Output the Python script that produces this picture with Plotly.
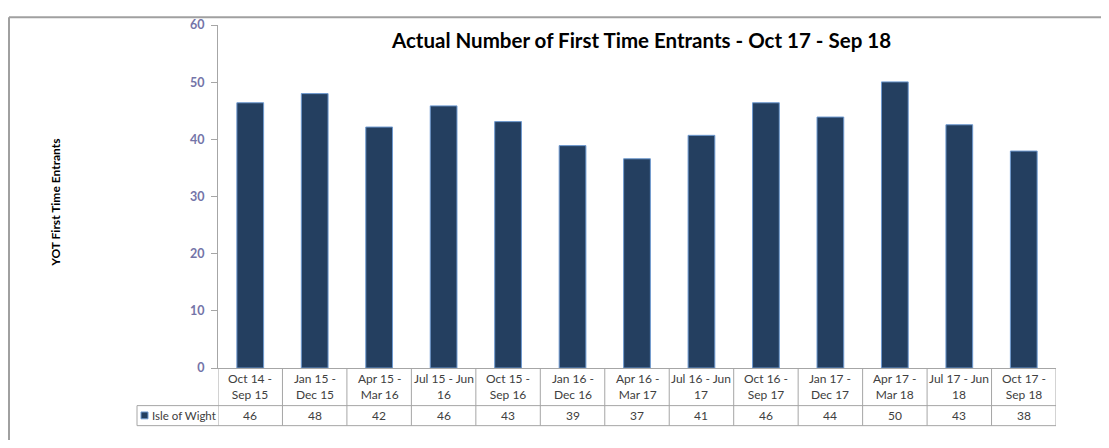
import plotly.graph_objects as go

# ---- data ----
categories = ["Oct 14 -<br>Sep 15", "Jan 15 -<br>Dec 15", "Apr 15 -<br>Mar 16", "Jul 15 - Jun<br>16",
              "Oct 15 -<br>Sep 16", "Jan 16 -<br>Dec 16", "Apr 16 -<br>Mar 17", "Jul 16 - Jun<br>17",
              "Oct 16 -<br>Sep 17", "Jan 17 -<br>Dec 17", "Apr 17 -<br>Mar 18", "Jul 17 - Jun<br>18",
              "Oct 17 -<br>Sep 18"]
series_name = "Isle of Wight"
values = [46.4, 48.0, 42.15, 45.85, 43.1, 38.9, 36.6, 40.7, 46.4, 43.9, 50.05, 42.55, 37.95]
table_labels = ["46", "48", "42", "46", "43", "39", "37", "41", "46", "44", "50", "43", "38"]
y_ticks = [0, 10, 20, 30, 40, 50, 60]

title = "Actual Number of First Time Entrants - Oct 17 - Sep 18"
y_title = "YOT First Time Entrants"

# ---- layout geometry (pixels, page coordinates; page body has an 8px margin) ----
OFF = 8
W, H = 1109 - 2 * OFF, 448 - 2 * OFF
L, R, T, B = 218 - OFF, 1056 - OFF, 17 - OFF, 368 - OFF
pw, ph = R - L, B - T

def px(x):
    return (x - OFF - L) / pw

def py(y):
    return (B - (y - OFF)) / ph

FONT = "Lato, 'Open Sans', sans-serif"
GRID = "#A6A6A6"
idx = list(range(len(categories)))

fig = go.Figure()
fig.add_trace(go.Bar(
    x=idx, y=values, name=series_name,
    marker=dict(color="#243F60", line=dict(color="#6F9AD0", width=1)),
    showlegend=False, hoverinfo="y",
))

shapes = []
annotations = []

# outer frame (top and left visible)
shapes.append(dict(type="line", xref="paper", yref="paper", x0=px(9), x1=px(1200), y0=py(9), y1=py(9),
                   line=dict(color="#A0A0A0", width=2)))
shapes.append(dict(type="line", xref="paper", yref="paper", x0=px(9), x1=px(9), y0=py(9), y1=py(600),
                   line=dict(color="#A0A0A0", width=2)))

# data table grid
row1_bottom = 406.5
row2_bottom = 427
for i in range(len(categories) + 1):
    shapes.append(dict(type="line", xref="x", yref="paper", x0=i - 0.5, x1=i - 0.5,
                       y0=py(368), y1=py(row2_bottom), line=dict(color=GRID, width=1)))
shapes.append(dict(type="line", xref="paper", yref="paper", x0=px(137), x1=px(137),
                   y0=py(row1_bottom), y1=py(row2_bottom), line=dict(color=GRID, width=1)))
for yy in (row1_bottom, row2_bottom):
    shapes.append(dict(type="line", xref="paper", yref="paper", x0=px(137), x1=1,
                       y0=py(yy), y1=py(yy), line=dict(color=GRID, width=1)))
# legend swatch
shapes.append(dict(type="rect", xref="paper", yref="paper", x0=px(141), x1=px(148),
                   y0=py(413), y1=py(420), fillcolor="#243F60", line=dict(color="#6F9AD0", width=1)))

for i, (c, t) in enumerate(zip(categories, table_labels)):
    annotations.append(dict(x=i, y=py((368 + row1_bottom) / 2), xref="x", yref="paper", text=c,
                            showarrow=False, font=dict(family=FONT, size=12, color="#404040"),
                            xanchor="center", yanchor="middle", align="center"))
    annotations.append(dict(x=i, y=py((row1_bottom + row2_bottom) / 2), xref="x", yref="paper", text=t,
                            showarrow=False, font=dict(family=FONT, size=12, color="#404040"),
                            xanchor="center", yanchor="middle"))
annotations.append(dict(x=px(150), y=py((row1_bottom + row2_bottom) / 2), xref="paper", yref="paper",
                        text=series_name, showarrow=False, xanchor="left", yanchor="middle",
                        font=dict(family=FONT, size=11.5, color="#404040")))

# title and y-axis title
annotations.append(dict(x=px(641), y=py(32), xref="paper", yref="paper", text="<b>" + title + "</b>",
                        showarrow=False, xanchor="center", yanchor="middle",
                        font=dict(family=FONT, size=20.5, color="#000000")))
annotations.append(dict(x=px(56), y=py(199), xref="paper", yref="paper", text="<b>" + y_title + "</b>",
                        showarrow=False, textangle=-90, xanchor="center", yanchor="middle",
                        font=dict(family=FONT, size=12, color="#000000")))

fig.update_layout(
    width=W, height=H,
    margin=dict(l=L, r=W - R, t=T, b=H - B, pad=0),
    paper_bgcolor="white", plot_bgcolor="white",
    bargap=0.585,
    shapes=shapes, annotations=annotations,
    xaxis=dict(type="linear", range=[-0.5, len(categories) - 0.5], showticklabels=False,
               showgrid=False, zeroline=False, showline=True, linecolor=GRID, linewidth=1, ticks=""),
    yaxis=dict(range=[0, 60], tickvals=y_ticks, showgrid=False, zeroline=False, showline=True,
               linecolor=GRID, linewidth=1, ticks="outside", ticklen=6, tickcolor=GRID,
               ticklabelstandoff=4,
               tickfont=dict(family=FONT, size=12.5, color="#7474A8", weight="bold")),
    font=dict(family=FONT),
)

fig.write_html("out.html")
